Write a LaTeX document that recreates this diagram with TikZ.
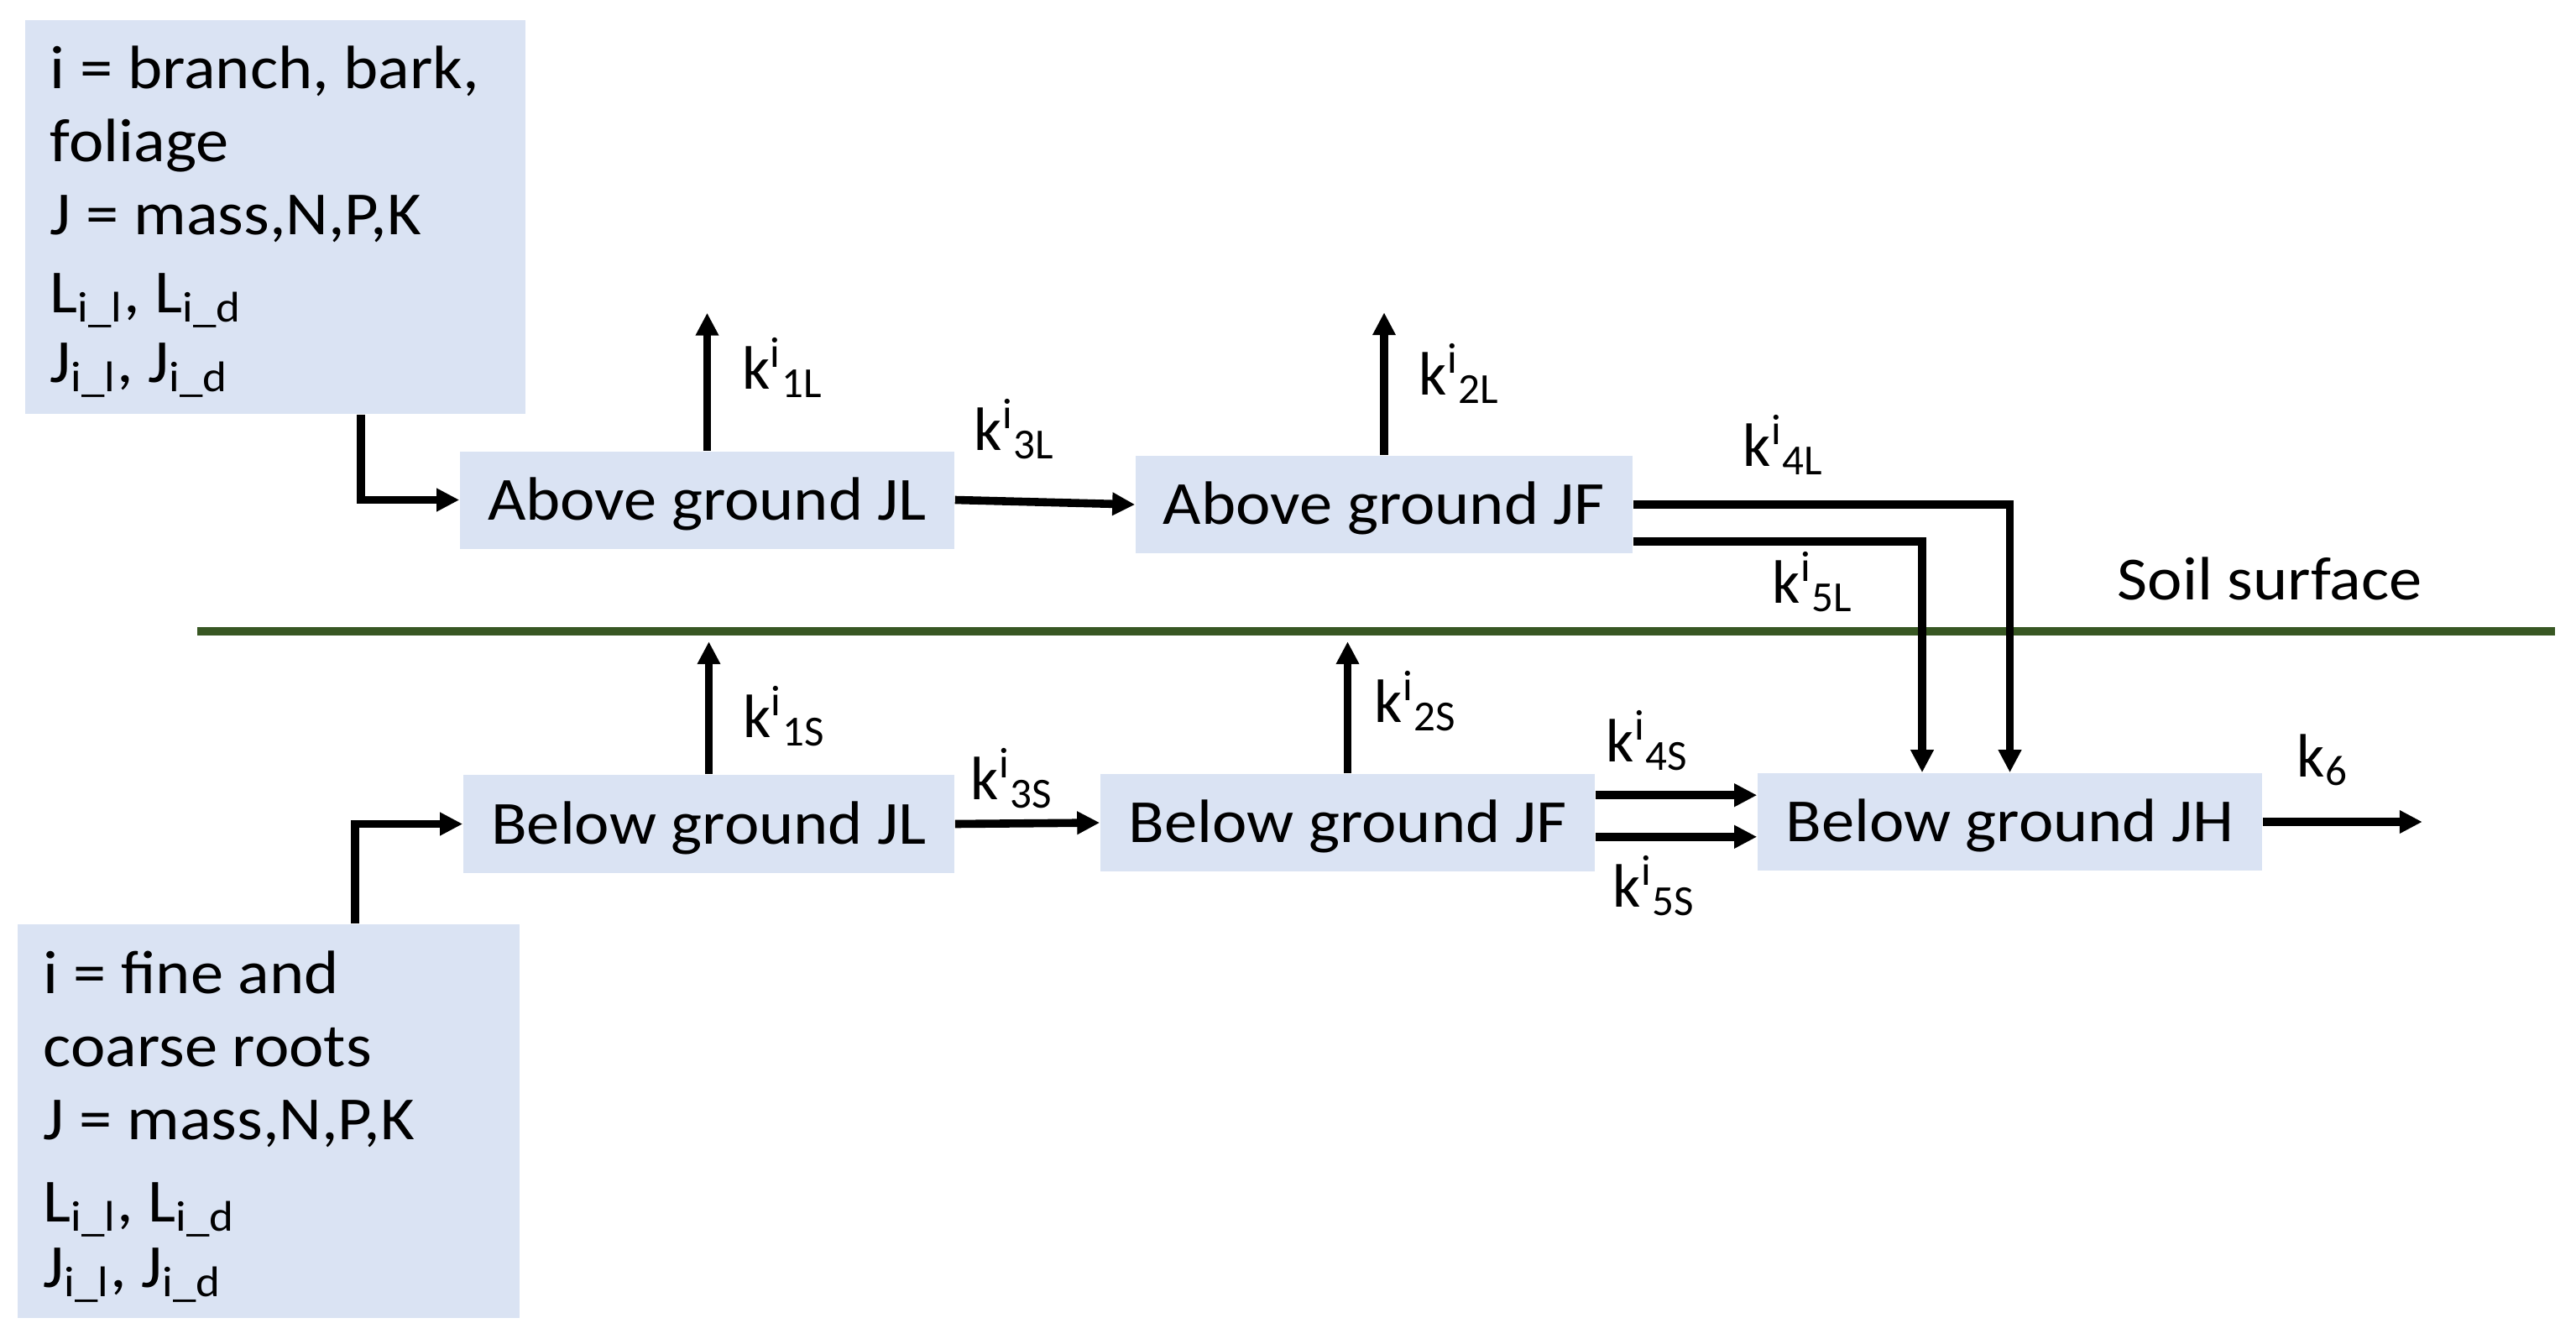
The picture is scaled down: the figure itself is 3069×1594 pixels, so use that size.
\documentclass[tikz,border=0pt]{standalone}
\usepackage{fontspec}
\setmainfont{Carlito}[FakeStretch=1.075]
\newfontfamily\lblfont{Carlito}
\usetikzlibrary{arrows.meta,calc}
\definecolor{boxblue}{RGB}{218,227,243}
\definecolor{soilgreen}{RGB}{56,87,35}
\begin{document}
\begin{tikzpicture}[x=0.25pt,y=-0.25pt,
  every node/.style={font=\fontsize{18.25pt}{22pt}\selectfont, inner sep=0pt},
  pool/.style={fill=boxblue, minimum height=29pt, text height=12pt, text depth=0.2pt},
  infobox/.style={fill=boxblue},
  lbl/.style={anchor=base west},
  rate/.style={anchor=base west, font=\fontsize{18.25pt}{22pt}\lblfont},
  flow/.style={line width=2.4pt, -{Triangle[width=6.5pt,length=6.75pt]}},
]
\useasboundingbox (0,0) rectangle (3069,1594);
\fill[white] (0,0) rectangle (3069,1594);

% soil surface line
\draw[soilgreen, line width=2.7pt] (235,752) -- (3044,752);
\node[lbl] (soil) at (2522,714) {Soil surface};

% info boxes
\node[infobox, minimum width=149pt, minimum height=117.25pt] (tl) at (328,258.5) {};
\node[lbl] (tl1) at (59,106) {i = branch, bark,};
\node[lbl] (tl2) at (59,193) {foliage};
\node[lbl] (tl3) at (59,280) {J = mass,N,P,K};
\node[lbl] (tl4) at (59,372) {L\textsubscript{i\_l}, L\textsubscript{i\_d}};
\node[lbl] (tl5) at (59,455) {J\textsubscript{i\_l}, J\textsubscript{i\_d}};

\node[infobox, minimum width=149.5pt, minimum height=117.25pt] (bl) at (320,1335.5) {};
\node[lbl] (bl1) at (51,1183) {i = fine and};
\node[lbl] (bl2) at (51,1270) {coarse roots};
\node[lbl] (bl3) at (51,1357) {J = mass,N,P,K};
\node[lbl] (bl4) at (51,1455) {L\textsubscript{i\_l}, L\textsubscript{i\_d}};
\node[lbl] (bl5) at (51,1533) {J\textsubscript{i\_l}, J\textsubscript{i\_d}};

% pools
\node[pool, minimum width=147.25pt] (ajl) at (842.5,595.5) {Above ground JL};
\node[pool, minimum width=148pt] (ajf) at (1649,601) {Above ground JF};
\node[pool, minimum width=146.25pt, minimum height=29.25pt] (bjl) at (844.5,981.5) {Below ground JL};
\node[pool, minimum width=147.25pt] (bjf) at (1605.5,980) {Below ground JF};
\node[pool, minimum width=150.25pt] (bjh) at (2394.5,979) {Below ground JH};

% free ends
\coordinate (k1Lend) at ($(ajl.north)+(0,-164)$);
\coordinate (k2Lend) at ($(ajf.north)+(0,-170)$);
\coordinate (k1Send) at ($(bjl.north)+(0,-158)$);
\coordinate (k2Send) at ($(bjf.north)+(0,-157)$);
\coordinate (k6end) at ($(bjh.east)+(190,0)$);
\coordinate (k5Lstart) at ($(ajf.south east)+(0,-15)$);
\coordinate (k4Sstart) at ($(bjf.north east)+(0,26)$);
\coordinate (k5Sstart) at ($(bjf.south east)+(0,-42)$);

% connectors
\draw[flow] ($(tl.south west)+(401,0)$) |- (ajl.west);
\draw[flow] ($(bl.north west)+(403,0)$) |- (bjl.west);
\draw[flow] (ajl.east) -- (ajf.west);
\draw[flow] (ajl.north) -- (k1Lend);
\draw[flow] (ajf.north) -- (k2Lend);
\draw[flow] (ajf.east) -| (bjh.north);
\draw[flow] (k5Lstart) -| ($(bjh.north)+(-104.5,0)$);
\draw[flow] (bjl.north) -- (k1Send);
\draw[flow] (bjf.north) -- (k2Send);
\draw[flow] (bjl.east) -- (bjf.west);
\draw[flow] (k4Sstart) -- (k4Sstart -| bjh.west);
\draw[flow] (k5Sstart) -- (k5Sstart -| bjh.west);
\draw[flow] (bjh.east) -- (k6end);

% rate labels
\node[rate] (l1L) at (884,463) {k\textsuperscript{i}\textsubscript{1L}};
\node[rate] (l2L) at (1690,470) {k\textsuperscript{i}\textsubscript{2L}};
\node[rate] (l3L) at (1160,536) {k\textsuperscript{i}\textsubscript{3L}};
\node[rate] (l4L) at (2076,555) {k\textsuperscript{i}\textsubscript{4L}};
\node[rate] (l5L) at (2111,718) {k\textsuperscript{i}\textsubscript{5L}};
\node[rate] (l1S) at (885,878) {k\textsuperscript{i}\textsubscript{1S}};
\node[rate] (l2S) at (1637,860) {k\textsuperscript{i}\textsubscript{2S}};
\node[rate] (l3S) at (1156,952) {k\textsuperscript{i}\textsubscript{3S}};
\node[rate] (l4S) at (1913,907) {k\textsuperscript{i}\textsubscript{4S}};
\node[rate] (l5S) at (1921,1080) {k\textsuperscript{i}\textsubscript{5S}};
\node[rate] (l6) at (2736,925) {k\textsubscript{6}};
\end{tikzpicture}
\end{document}
